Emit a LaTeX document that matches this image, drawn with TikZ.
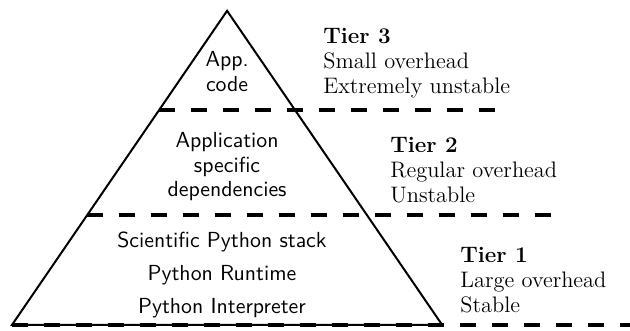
\documentclass[tikz,border=0pt]{standalone}
\usepackage{tikz}
\usetikzlibrary{positioning, calc}

\begin{document}
\begin{tikzpicture}[
    layer/.style={
        font=\fontsize{10.9}{12.3}\selectfont\sffamily, align=center, inner sep=0pt,
    },
    tier/.style={
        font=\fontsize{11.2}{12.5}\selectfont\rmfamily, align=left, anchor=west, inner sep=0pt,
    },
    cut/.style={
        line width=1.6pt, dash pattern=on 8pt off 8pt,
    },
    outline/.style={line width=1pt, line join=miter},
]

\useasboundingbox (-0.21,-0.09) rectangle (10.86,5.71);

% ── Pyramid outline ────────────────────────────────────────────────────────
\coordinate (bl)   at (0,0);
\coordinate (br)   at (7.56,0);
\coordinate (apex) at (3.78,5.52);
\draw[outline] (bl) -- (br) -- (apex) -- cycle;

% ── Tier boundaries (dashed) ───────────────────────────────────────────────
\coordinate (cut1s) at (2.587,3.778);
\coordinate (cut1e) at (8.58,3.778);
\coordinate (cut2s) at (1.324,1.933);
\coordinate (cut2e) at (9.56,1.933);
\coordinate (cut3e) at (10.86,0);

\draw[cut] (cut1s) -- (cut1e);
\draw[cut] (cut2s) -- (cut2e);
\draw[cut] (bl) -- (cut3e);

% ── Layers inside the pyramid ──────────────────────────────────────────────
\node[layer] (app)  at (3.78,4.455) {App.\\code};
\node[layer] (deps) at (3.78,2.777) {Application\\specific\\dependencies};
\node[layer] (core) at (3.69,0.879) {Scientific Python stack\\[4pt]
                                      Python Runtime\\[4pt]
                                      Python Interpreter};

% ── Tier descriptions on the right ─────────────────────────────────────────
\node[tier] (tier3) at (5.465,4.604) {\textbf{Tier 3}\\Small overhead\\Extremely unstable};
\node[tier] (tier2) at (6.643,2.724) {\textbf{Tier 2}\\Regular overhead\\Unstable};
\node[tier] (tier1) at (7.873,0.791) {\textbf{Tier 1}\\Large overhead\\Stable};

\end{tikzpicture}
\end{document}
